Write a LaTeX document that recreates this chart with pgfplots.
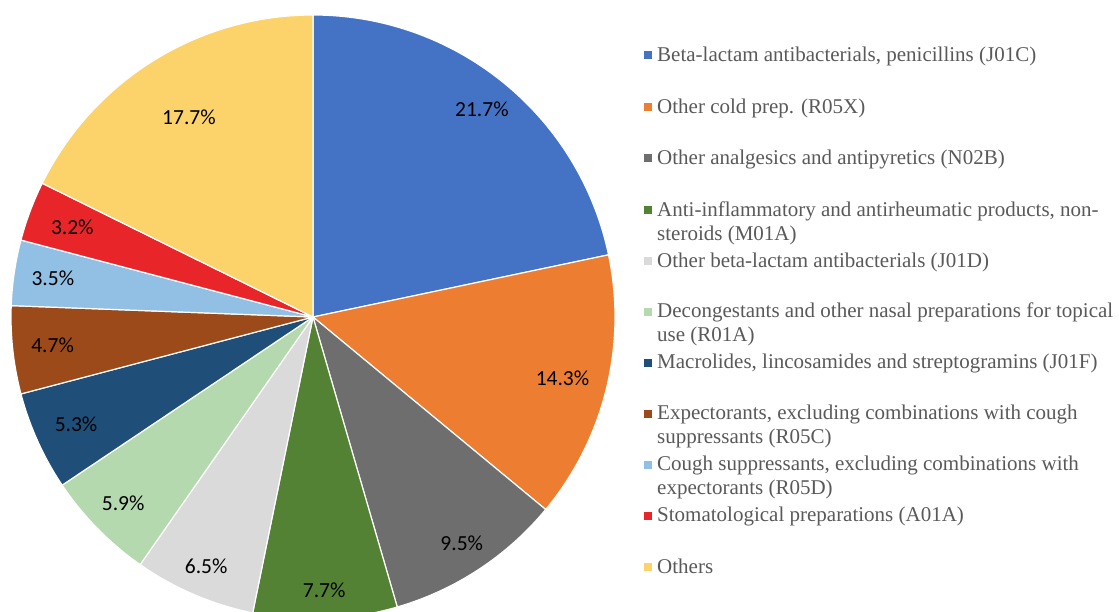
\documentclass[border=0pt]{standalone}
\usepackage{pgfplots}
\pgfplotsset{compat=1.18}
\usepackage{fontspec}
\setmainfont{Liberation Serif}
\newfontfamily\calibri{Carlito}
\definecolor{c1}{HTML}{4472C4}
\definecolor{c2}{HTML}{ED7D31}
\definecolor{c3}{HTML}{6E6E6E}
\definecolor{c4}{HTML}{548235}
\definecolor{c5}{HTML}{DADADA}
\definecolor{c6}{HTML}{B4D9AE}
\definecolor{c7}{HTML}{1F4E79}
\definecolor{c8}{HTML}{9C4A1A}
\definecolor{c9}{HTML}{92BFE4}
\definecolor{c10}{HTML}{E8262A}
\definecolor{c11}{HTML}{FCD36A}
\definecolor{legtext}{HTML}{595959}
\newcommand\legfont{\fontsize{21bp}{24bp}\selectfont}
\begin{document}
\begin{tikzpicture}
\begin{axis}[width=1119bp,height=612bp,scale only axis,xmin=0,xmax=1119,ymin=0,ymax=612,hide axis,clip=true]
\gdef\cum{0}
\foreach \v/\c/\r in {21.7/c1/268, 14.3/c2/257, 9.5/c3/271, 7.7/c4/273, 6.5/c5/271, 5.9/c6/266, 5.3/c7/260, 4.7/c8/262, 3.5/c9/263, 3.2/c10/257, 17.7/c11/235}{
  \pgfmathsetmacro\a{90-3.6*\cum}
  \pgfmathsetmacro\b{90-3.6*(\cum+\v)}
  \pgfmathsetmacro\m{(\a+\b)/2}
  \pgfmathsetmacro\lx{313+\r*cos(\m)}
  \pgfmathsetmacro\ly{295+\r*sin(\m)}
  \edef\tmp{\noexpand\fill[\c, draw=white, line width=1.2bp, line join=round] (axis cs:313,295) -- ++(\a:302bp) arc[start angle=\a, end angle=\b, radius=302bp] -- cycle;
    \noexpand\node[font=\noexpand\calibri\noexpand\fontsize{21.5bp}{25bp}\noexpand\selectfont, text=black] at (axis cs:\lx,\ly) {\v\noexpand\%};}
  \tmp
  \pgfmathsetmacro\newcum{\cum+\v}
  \xdef\cum{\newcum}
}
% legend
\foreach \c/\y in {c1/55, c2/107, c3/158, c4/210, c5/261, c6/312, c7/363, c8/414, c9/465, c10/516, c11/567}{
  \edef\tmp{\noexpand\node[fill=\c, minimum size=8bp, inner sep=0pt] at (axis cs:648,{612-\y}) {};}
  \tmp
}
\foreach \t/\y in {
  {Beta-lactam antibacterials, penicillins (J01C)}/62,
  {Other cold prep. (R05X)}/114,
  {Other analgesics and antipyretics (N02B)}/165,
  {Anti-inflammatory and antirheumatic products, non-}/217,
  {steroids (M01A)}/241,
  {Other beta-lactam antibacterials (J01D)}/268,
  {Decongestants and other nasal preparations for topical}/318,
  {use (R01A)}/342,
  {Macrolides, lincosamides and streptogramins (J01F)}/369,
  {Expectorants, excluding combinations with cough}/420,
  {suppressants (R05C)}/444,
  {Cough suppressants, excluding combinations with}/471,
  {expectorants (R05D)}/495,
  {Stomatological preparations (A01A)}/522,
  {Others}/574}{
  \edef\tmp{\noexpand\node[anchor=base west, inner sep=0pt, text=legtext, font=\noexpand\legfont] at (axis cs:657,{612-\y}) {\t};}
  \tmp
}
\end{axis}
\pgfresetboundingbox
\path (0,0) rectangle (1119bp,612bp);
\end{tikzpicture}
\end{document}
